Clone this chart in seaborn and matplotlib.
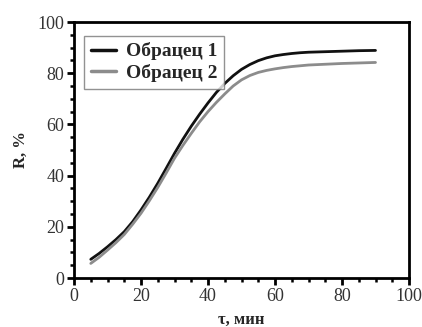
import numpy as np
import pandas as pd
import matplotlib
matplotlib.use("Agg")
import matplotlib.pyplot as plt
import seaborn as sns
from matplotlib.ticker import MultipleLocator

time_min = [5, 7.5, 10, 12.5, 15, 17.5, 20, 22.5, 25, 27.5, 30, 32.5, 35, 37.5, 40,
            42.5, 45, 47.5, 50, 52.5, 55, 57.5, 60, 62.5, 65, 67.5, 70, 75, 80, 85, 90]
sample1 = [7.3, 9.6, 12.2, 15.0, 18.1, 22.0, 26.6, 31.6, 37.0, 42.8, 48.7, 54.2, 59.3, 64.0, 68.4,
           72.5, 76.0, 79.0, 81.5, 83.4, 84.9, 86.0, 86.8, 87.3, 87.7, 88.0, 88.2, 88.4, 88.6, 88.8, 88.9]
sample2 = [5.7, 8.1, 10.9, 13.8, 17.0, 21.0, 25.3, 30.2, 35.4, 41.0, 46.8, 51.8, 56.5, 61.0, 65.0,
           68.6, 71.9, 75.0, 77.4, 79.1, 80.3, 81.1, 81.7, 82.2, 82.6, 82.9, 83.2, 83.5, 83.8, 84.0, 84.2]
series_names = ["Обрацец 1", "Обрацец 2"]
x_ticks = [0, 20, 40, 60, 80, 100]
y_ticks = [0, 20, 40, 60, 80, 100]

df = pd.DataFrame({
    "t": time_min * 2,
    "R": sample1 + sample2,
    "s": [series_names[0]] * len(time_min) + [series_names[1]] * len(time_min),
})

sns.set_style("white")
plt.rcParams['font.family'] = ['Liberation Serif', 'DejaVu Serif']

fig = plt.figure(figsize=(4.22, 3.27), dpi=100)
ax = fig.add_axes([0.1754, 0.1498, 0.9692 - 0.1754, 0.9327 - 0.1498])

sns.lineplot(data=df, x="t", y="R", hue="s", palette=["#111111", "#8c8c8c"],
             linewidth=2.0, ax=ax, legend=True)

ax.set_xlim(0, 100)
ax.set_ylim(0, 100)
ax.set_xticks(x_ticks)
ax.set_yticks(y_ticks)
ax.xaxis.set_minor_locator(MultipleLocator(5))
ax.yaxis.set_minor_locator(MultipleLocator(5))
ax.tick_params(axis='both', which='major', direction='out', length=5, width=2,
               labelsize=13, labelcolor='#333333', color='black', pad=2)
ax.tick_params(axis='both', which='minor', direction='out', length=3, width=1.8, color='black')
ax.tick_params(top=False, right=False, which='both')
ax.tick_params(axis='x', bottom=True, which='both')
ax.tick_params(axis='y', left=True, which='both')

for sp in ax.spines.values():
    sp.set_visible(True)
    sp.set_linewidth(2)
    sp.set_color('black')

ax.set_xlabel("τ, мин", fontsize=12, fontweight='bold', labelpad=5)
ax.set_ylabel("R, %", fontsize=12, fontweight='bold', labelpad=6)

leg = ax.legend(loc='upper left', frameon=True, fancybox=False, fontsize=14,
                handlelength=1.3, handletextpad=0.5, borderpad=0.35,
                labelspacing=0.2, bbox_to_anchor=(0.0, 0.985))
leg.get_frame().set_edgecolor('#777777')
leg.get_frame().set_linewidth(1.0)
for t in leg.get_texts():
    t.set_fontweight('bold')
for l in leg.get_lines():
    l.set_linewidth(2.5)

fig.savefig("out.png", dpi=100)
